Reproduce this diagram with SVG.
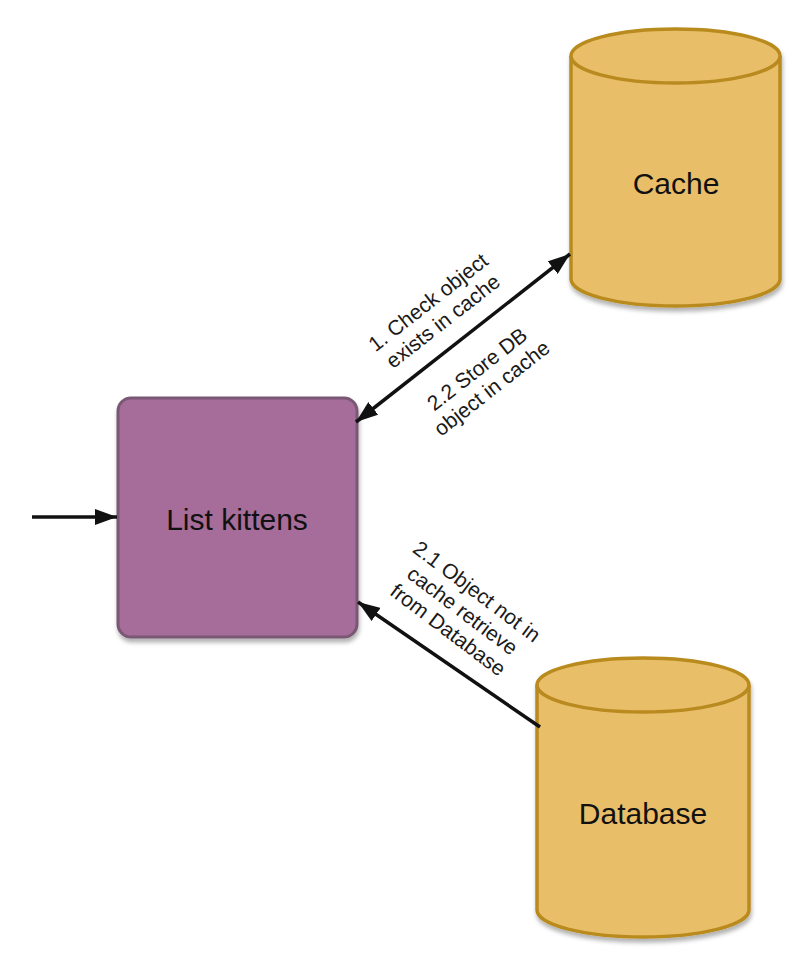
<svg xmlns="http://www.w3.org/2000/svg" width="806" height="970" viewBox="0 0 806 970">
<style>
.cyl{fill:#e9be68;stroke:#b98a1f;stroke-width:3.5}
.box{fill:#a66c9a;stroke:#7a5874;stroke-width:3}
.lbl{font-family:"Liberation Sans",Arial,sans-serif;font-size:21px;fill:#1a1a1a;text-anchor:middle}
.nlbl{font-family:"Liberation Sans",Arial,sans-serif;font-size:30px;fill:#111;text-anchor:middle}
.conn{stroke:#111;stroke-width:3.5;fill:none}
</style>
<defs>
<marker id="ah" viewBox="0 0 22 16" refX="22" refY="8" markerWidth="22" markerHeight="16" markerUnits="userSpaceOnUse" orient="auto-start-reverse">
<path d="M0,0 L22,8 L0,16 Z" fill="#111"/>
</marker>
<filter id="sh" x="-10%" y="-10%" width="130%" height="130%">
<feDropShadow dx="1" dy="4" stdDeviation="2" flood-color="#000" flood-opacity="0.3"/>
</filter>
</defs>
<rect width="806" height="970" fill="#fff"/>
<g id="list-kittens">
<rect class="box" x="118" y="398" width="239" height="239" rx="13" filter="url(#sh)"/>
<text class="nlbl" x="237" y="530">List kittens</text>
</g>
<g id="cache">
<path class="cyl" filter="url(#sh)" d="M571,56 L571,279 A104.5,27 0 0 0 780,279 L780,56 A104.5,27 0 0 0 571,56 Z"/>
<path class="cyl" fill="none" d="M571,56 A104.5,27 0 0 0 780,56"/>
<text class="nlbl" x="676" y="194">Cache</text>
</g>
<g id="database">
<path class="cyl" filter="url(#sh)" d="M537,685 L537,910 A106,27 0 0 0 749,910 L749,685 A106,27 0 0 0 537,685 Z"/>
<path class="cyl" fill="none" d="M537,685 A106,27 0 0 0 749,685"/>
<text class="nlbl" x="643" y="824">Database</text>
</g>
<g id="connectors">
<line class="conn" x1="32" y1="517" x2="117" y2="517" marker-end="url(#ah)"/>
<line class="conn" x1="356" y1="422" x2="570" y2="254" marker-start="url(#ah)" marker-end="url(#ah)"/>
<line class="conn" x1="540" y1="727" x2="358" y2="602" marker-end="url(#ah)"/>
<g transform="translate(435,311) rotate(-38)">
<text class="lbl" x="0" y="-4">1. Check object</text>
<text class="lbl" x="0" y="20">exists in cache</text>
</g>
<g transform="translate(484,378) rotate(-38)">
<text class="lbl" x="0" y="-4">2.2 Store DB</text>
<text class="lbl" x="0" y="20">object in cache</text>
</g>
<g transform="translate(463,610) rotate(37)">
<text class="lbl" x="0" y="-16">2.1 Object not in</text>
<text class="lbl" x="0" y="8">cache retrieve</text>
<text class="lbl" x="0" y="32">from Database</text>
</g>
</g>
</svg>
